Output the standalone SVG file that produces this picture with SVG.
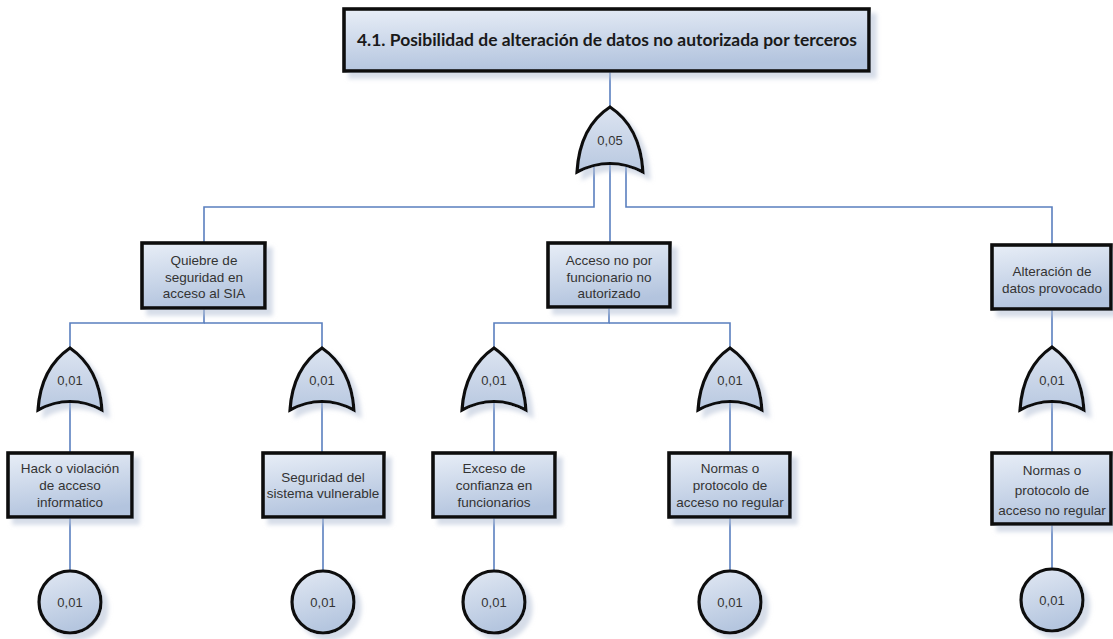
<svg xmlns="http://www.w3.org/2000/svg" width="1113" height="639" viewBox="0 0 1113 639">
<style>
.box{fill:url(#bg);stroke:#111;stroke-width:3.6}
.gate{fill:url(#gg);stroke:#111;stroke-width:3.2}
.ev{fill:url(#cg);stroke:#111;stroke-width:3.2}
.sh{filter:url(#ds)}
.lbl{font-family:"Liberation Sans",Arial,sans-serif;font-size:13.5px;fill:#333;text-anchor:middle}
.num{font-family:"Liberation Sans",Arial,sans-serif;font-size:13px;fill:#333;text-anchor:middle}
.title{font-family:Lato,"Liberation Sans",sans-serif;font-weight:bold;font-size:17px;fill:#1a1a1a;text-anchor:middle}
.con{fill:none;stroke:#5a7fbf;stroke-width:1.6}
</style>
<defs>
<linearGradient id="bg" x1="0" y1="0" x2="0.25" y2="1">
<stop offset="0" stop-color="#e8eef7"/>
<stop offset="1" stop-color="#b3c4de"/>
</linearGradient>
<linearGradient id="gg" x1="0" y1="0" x2="0" y2="1">
<stop offset="0" stop-color="#dce4f1"/>
<stop offset="1" stop-color="#b8c8e0"/>
</linearGradient>
<linearGradient id="cg" x1="0" y1="0" x2="0.3" y2="1">
<stop offset="0" stop-color="#e1e8f3"/>
<stop offset="1" stop-color="#b5c6df"/>
</linearGradient>
<filter id="ds" x="-20%" y="-20%" width="150%" height="150%">
<feDropShadow dx="6" dy="6" stdDeviation="2" flood-color="#b4c0d6" flood-opacity="0.55"/>
</filter>
</defs>

<g id="connectors">
<path class="con" d="M610,71 V110"/>
<path class="con" d="M594,160 V207 H204 V245"/>
<path class="con" d="M610,160 V245"/>
<path class="con" d="M626,160 V207 H1052 V247"/>
<path class="con" d="M204,306 V323 H70 V352"/>
<path class="con" d="M204,323 H322 V352"/>
<path class="con" d="M609,305 V323 H494 V352"/>
<path class="con" d="M609,323 H730 V352"/>
<path class="con" d="M1052,307 V351"/>
<path class="con" d="M70,400 V455"/>
<path class="con" d="M322,400 V455"/>
<path class="con" d="M494,400 V455"/>
<path class="con" d="M730,400 V455"/>
<path class="con" d="M1052,400 V455"/>
<path class="con" d="M70,515 V573"/>
<path class="con" d="M323,515 V573"/>
<path class="con" d="M494,515 V573"/>
<path class="con" d="M730,515 V573"/>
<path class="con" d="M1052,520 V571"/>
</g>

<g id="top">
<rect class="box sh" x="344" y="9" width="525" height="62"/>
<text class="title" x="607" y="46" textLength="500" lengthAdjust="spacingAndGlyphs">4.1. Posibilidad de alteración de datos no autorizada por terceros</text>
</g>

<g id="gate-top">
<path class="gate sh" d="M577,172 C579,138 593,118 610,107 C627,118 641,138 643,172 Q610,155 577,172 Z"/>
<text class="num" x="610" y="145">0,05</text>
</g>

<g id="n-quiebre">
<rect class="box sh" x="142" y="243" width="123" height="65"/>
<text class="lbl" x="204" y="265">Quiebre de</text>
<text class="lbl" x="204" y="282">seguridad en</text>
<text class="lbl" x="204" y="298">acceso al SIA</text>
</g>
<g id="n-acceso">
<rect class="box sh" x="548" y="243" width="122" height="64"/>
<text class="lbl" x="609" y="265">Acceso no por</text>
<text class="lbl" x="609" y="282">funcionario no</text>
<text class="lbl" x="609" y="298">autorizado</text>
</g>
<g id="n-alteracion">
<rect class="box sh" x="992" y="245" width="119" height="64"/>
<text class="lbl" x="1052" y="276">Alteración de</text>
<text class="lbl" x="1052" y="293">datos provocado</text>
</g>

<g id="g1"><path class="gate sh" d="M38,410 C40,378 54,359 70,348 C86,359 100,378 102,410 Q70,393 38,410 Z"/><text class="num" x="70" y="385">0,01</text></g>
<g id="g2"><path class="gate sh" d="M290,410 C292,378 306,359 322,348 C338,359 352,378 354,410 Q322,393 290,410 Z"/><text class="num" x="322" y="385">0,01</text></g>
<g id="g3"><path class="gate sh" d="M462,410 C464,378 478,359 494,348 C510,359 524,378 526,410 Q494,393 462,410 Z"/><text class="num" x="494" y="385">0,01</text></g>
<g id="g4"><path class="gate sh" d="M698,410 C700,378 714,359 730,348 C746,359 760,378 762,410 Q730,393 698,410 Z"/><text class="num" x="730" y="385">0,01</text></g>
<g id="g5"><path class="gate sh" d="M1020,410 C1022,378 1036,358 1052,347 C1068,358 1082,378 1084,410 Q1052,393 1020,410 Z"/><text class="num" x="1052" y="385">0,01</text></g>

<g id="n-hack">
<rect class="box sh" x="8" y="453" width="124" height="64"/>
<text class="lbl" x="70" y="473">Hack o violación</text>
<text class="lbl" x="70" y="490">de acceso</text>
<text class="lbl" x="70" y="507">informatico</text>
</g>
<g id="n-seguridad">
<rect class="box sh" x="263" y="453" width="121" height="64"/>
<text class="lbl" x="323" y="482">Seguridad del</text>
<text class="lbl" x="323" y="498">sistema vulnerable</text>
</g>
<g id="n-exceso">
<rect class="box sh" x="433" y="453" width="122" height="64"/>
<text class="lbl" x="494" y="473">Exceso de</text>
<text class="lbl" x="494" y="490">confianza en</text>
<text class="lbl" x="494" y="507">funcionarios</text>
</g>
<g id="n-normas1">
<rect class="box sh" x="669" y="453" width="121" height="64"/>
<text class="lbl" x="730" y="473">Normas o</text>
<text class="lbl" x="730" y="490">protocolo de</text>
<text class="lbl" x="730" y="507">acceso no regular</text>
</g>
<g id="n-normas2">
<rect class="box sh" x="992" y="453" width="119" height="71"/>
<text class="lbl" x="1052" y="475">Normas o</text>
<text class="lbl" x="1052" y="495">protocolo de</text>
<text class="lbl" x="1052" y="515">acceso no regular</text>
</g>

<g id="e1"><circle class="ev sh" cx="70" cy="602" r="31"/><text class="num" x="70" y="607">0,01</text></g>
<g id="e2"><circle class="ev sh" cx="323" cy="602" r="31"/><text class="num" x="323" y="607">0,01</text></g>
<g id="e3"><circle class="ev sh" cx="494" cy="602" r="31"/><text class="num" x="494" y="607">0,01</text></g>
<g id="e4"><circle class="ev sh" cx="730" cy="602" r="31"/><text class="num" x="730" y="607">0,01</text></g>
<g id="e5"><circle class="ev sh" cx="1052" cy="600" r="31"/><text class="num" x="1052" y="605">0,01</text></g>
</svg>
